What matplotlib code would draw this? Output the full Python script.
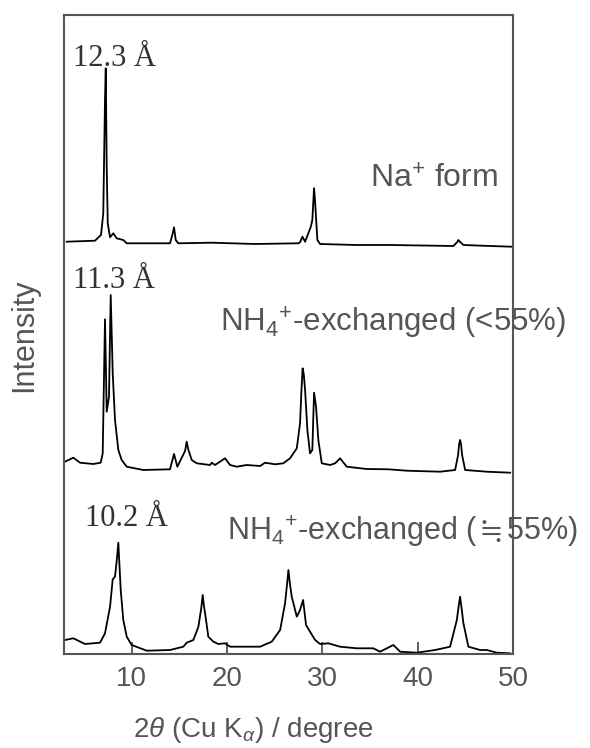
import matplotlib
matplotlib.use('Agg')
import matplotlib.pyplot as plt

plt.rcParams['font.family'] = ['Liberation Sans', 'DejaVu Sans']
plt.rcParams['mathtext.fontset'] = 'custom'
plt.rcParams['mathtext.rm'] = 'Liberation Sans'
plt.rcParams['mathtext.it'] = 'Liberation Sans:italic'
plt.rcParams['mathtext.fallback'] = 'stix'

# XRD traces (2theta in degree, stacked intensity)
na_2theta = [3.18, 6.15, 6.78, 7.02, 7.20, 7.28, 7.38, 7.49, 7.73, 8.07, 8.43, 9.12, 9.48,
             14.02, 14.26, 14.44, 14.62, 14.89, 18.40, 22.94, 27.49, 27.66, 27.91, 28.19,
             28.53, 28.79, 28.95, 29.05, 29.13, 29.22, 29.31, 29.48, 29.76, 33.61, 37.11,
             43.75, 44.15, 44.27, 44.45, 44.80, 47.60, 49.88]
na_int = [412.3, 413.3, 419, 440.7, 554, 585.7, 487.3, 430.7, 416.7, 420.7, 415.7, 414, 410.7,
          410.7, 419, 426.7, 414, 410.7, 411.3, 410, 410.7, 411.7, 417.3, 412.3,
          420.7, 427.3, 434, 452, 465.7, 455, 440.7, 414, 410, 409, 409,
          408, 412, 414, 412, 409, 408, 407.3]

nh4_low_2theta = [3.00, 3.88, 4.58, 5.97, 6.75, 6.96, 7.20, 7.38, 7.62, 7.80, 8.01, 8.25, 8.60,
                  8.95, 9.48, 11.22, 14.02, 14.44, 14.79, 15.60, 15.77, 15.95, 16.30, 16.82,
                  18.22, 18.40, 18.74, 19.79, 20.32, 21.02, 22.07, 23.47, 23.99, 25.04, 25.91,
                  26.61, 27.32, 27.66, 27.80, 27.93, 28.05, 28.19, 28.43, 28.71, 28.95, 29.13,
                  29.34, 29.58, 29.94, 30.81, 31.34, 31.86, 32.56, 34.66, 36.93, 38.86, 42.35,
                  43.93, 44.24, 44.35, 44.45, 44.55, 44.66, 44.98, 47.25, 49.70]
nh4_low_int = [192.3, 196.3, 191.3, 190, 191.3, 200.7, 334.7, 242.3, 257.3, 359, 280.7, 234, 204,
               194, 187.3, 184, 184.7, 200, 187.3, 203, 212.3, 204, 194, 190.7,
               189, 191.3, 189, 195.7, 189, 187.3, 189, 188, 191.3, 189.7, 190.7,
               195.7, 205.7, 230.7, 262, 285.7, 280, 264, 224, 200.7, 204, 261.3,
               247.3, 214, 190.7, 189, 190.7, 195.7, 187.3, 185, 184.7, 183.3, 182.3,
               184, 199, 210, 214, 210, 199, 184, 182.3, 181.3]

nh4_eq_2theta = [3.00, 3.88, 5.10, 6.68, 7.20, 7.73, 8.01, 8.25, 8.45, 8.60, 8.70, 8.85, 9.12,
                 9.48, 10.00, 11.58, 14.02, 15.42, 15.77, 16.47, 17.00, 17.30, 17.45, 17.58,
                 17.70, 18.04, 18.57, 19.09, 19.79, 20.32, 22.07, 23.47, 24.69, 25.57, 26.09,
                 26.30, 26.44, 26.60, 26.79, 27.32, 27.66, 27.98, 28.29, 28.71, 29.24, 29.76,
                 30.63, 31.86, 33.61, 35.35, 36.06, 37.45, 38.16, 39.91, 41.83, 43.40, 44.11,
                 44.30, 44.45, 44.60, 44.80, 45.32, 46.55, 47.25, 48.30, 49.70]
nh4_eq_int = [14, 15.7, 10, 11.3, 20.7, 47.3, 74.7, 77.3, 95, 111.3, 92, 64, 34,
              17.3, 9, 3.3, 4, 7.3, 11.3, 14, 27.3, 46, 59, 48,
              40.7, 17.3, 12.3, 10, 10.7, 7.3, 7.3, 7.3, 12.3, 24, 50.7,
              70, 84, 70, 57.3, 37.3, 44, 54, 29, 22.3, 14, 10,
              10.7, 7.3, 5.7, 5.7, 2.3, 9, 2.3, 1.3, 4, 7.3, 34,
              48, 57.3, 46, 30.7, 7.3, 4, 4, 1.3, 0.7]

xticks = [10, 20, 30, 40, 50]

grey = '#555555'

fig = plt.figure(figsize=(5.9, 7.48), dpi=100)
ax = fig.add_axes([64 / 590, 1 - 654 / 748, 449 / 590, 639 / 748])

for xs, ys in [(na_2theta, na_int), (nh4_low_2theta, nh4_low_int), (nh4_eq_2theta, nh4_eq_int)]:
    ax.plot(xs, ys, color='black', lw=1.3)

ax.set_xlim(2.9, 50)
ax.set_ylim(0, 639)
ax.set_xticks(xticks)
ax.set_yticks([])
ax.tick_params(axis='x', direction='in', length=9, width=1.3, color=grey,
               labelsize=20, labelcolor=grey, pad=9)
for sp in ax.spines.values():
    sp.set_color(grey)
    sp.set_linewidth(1.5)

fig.text(253.5 / 590, 1 - 730 / 748, r'2$\theta$ (Cu K$_{\alpha}$) / degree', fontsize=20,
         color=grey, ha='center', va='center')
fig.text(24 / 590, 1 - 335 / 748, 'Intensity', rotation=90, fontsize=22, color=grey,
         ha='center', va='center')

serif = ['Liberation Serif', 'DejaVu Serif']
ax.text(3.84, 588, '12.3 Å', family=serif, fontsize=22, color='#333333', va='baseline')
ax.text(3.84, 366, '11.3 Å', family=serif, fontsize=22, color='#333333', va='baseline')
ax.text(5.10, 128, '10.2 Å', family=serif, fontsize=22, color='#333333', va='baseline')

ax.text(48.44, 466, r'Na$^{+}$ form', fontsize=23, color=grey, ha='right', va='baseline')
ax.text(19.27, 322, r'NH$_{4}$$^{+}$-exchanged (<55%)', fontsize=22.5, color=grey, va='baseline')
ax.text(19.97, 114, r'NH$_{4}$$^{+}$-exchanged ($\fallingdotseq$55%)', fontsize=22, color=grey,
        va='baseline')

fig.savefig('out.png', dpi=100)
